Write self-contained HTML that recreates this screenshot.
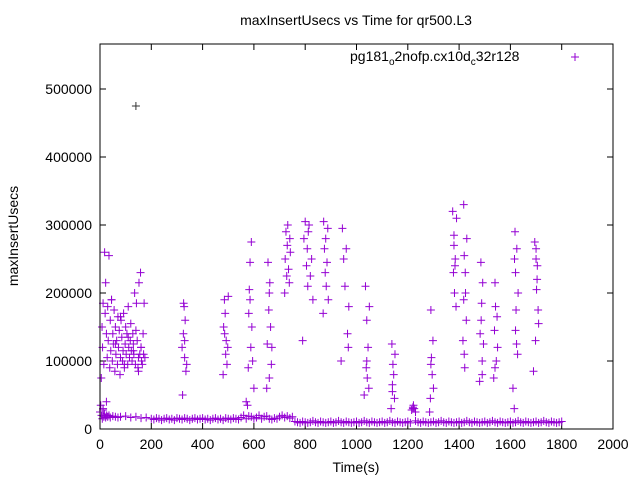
<!DOCTYPE html>
<html><head><meta charset="utf-8"><style>
body{margin:0;background:#fff}
svg{display:block;font-family:"Liberation Sans",sans-serif}
</style></head><body>
<svg id="chart" width="640" height="480">
<rect x="0" y="0" width="640" height="480" fill="#fff"/>
<text x="356" y="25" font-size="14" text-anchor="middle">maxInsertUsecs vs Time for qr500.L3</text>
<text x="18" y="236" font-size="14" text-anchor="middle" transform="rotate(-90 18 236)">maxInsertUsecs</text>
<text x="356" y="472" font-size="14" text-anchor="middle">Time(s)</text>
<g id="axes"></g>
<g id="points"></g>
<rect x="100" y="44" width="513" height="385" fill="none" stroke="#000" stroke-width="1"/>
<g>
<text x="350" y="61" font-size="14">pg181<tspan font-size="10" dy="4">o</tspan><tspan dy="-4">2nofp.cx10d</tspan><tspan font-size="10" dy="4">c</tspan><tspan dy="-4">32r128</tspan></text>
<path d="M571 57h8M575 53v8" stroke="#9400d3" stroke-width="1"/>
</g>
</svg>
<script>
const xTicks=[0,200,400,600,800,1000,1200,1400,1600,1800,2000];
const yTicks=[0,100000,200000,300000,400000,500000];
const clusterTime=[
5,8,10,12,15,18,20,22,25,28,30,32,35,38,40,42,45,48,50,52,55,58,60,62,65,68,70,72,75,78,80,82,85,88,90,92,95,98,100,102,105,108,110,112,115,118,120,122,125,128,130,132,135,138,140,142,145,148,150,152,155,158,160,162,165,168,170,172,175,12,25,35,45,60,80,95,110,130,150,160,
320,322,325,328,330,332,335,338,330,326,
480,482,485,488,490,492,495,498,500,486,
570,575,578,580,582,585,588,590,592,595,600,585,
650,652,655,658,660,662,665,668,670,660,
720,722,725,728,730,732,735,738,740,742,
790,795,800,805,808,810,815,820,825,830,812,
870,872,875,878,880,882,885,888,890,
940,945,950,955,960,965,970,968,
1030,1035,1038,1040,1042,1045,1048,1050,1040,
1135,1138,1140,1142,1145,1148,1150,1140,
1215,1220,1225,1230,1222,
1285,1288,1290,1292,1295,1298,1300,1290,
1375,1378,1380,1382,1385,1388,1390,1380,1384,
1415,1418,1420,1422,1425,1428,1430,1420,1424,1418,
1480,1482,1485,1488,1490,1492,1495,1486,1490,
1535,1538,1540,1542,1545,1548,1550,1540,
1610,1615,1618,1620,1622,1625,1628,1630,1620,1616,1624,
1690,1695,1698,1700,1702,1705,1708,1710,1700,1704,
140];
const clusterUsecs=[
75000,150000,120000,185000,95000,260000,170000,215000,140000,105000,180000,130000,255000,90000,160000,115000,190000,100000,140000,125000,175000,85000,150000,110000,130000,95000,165000,120000,145000,80000,105000,160000,135000,100000,115000,170000,90000,125000,150000,110000,140000,95000,180000,120000,105000,130000,155000,115000,100000,140000,125000,110000,200000,95000,145000,185000,130000,90000,105000,215000,110000,230000,120000,100000,95000,140000,110000,185000,105000,30000,40000,20000,190000,125000,165000,95000,135000,115000,85000,120000,
120000,50000,140000,180000,105000,160000,85000,95000,130000,185000,
80000,150000,190000,170000,110000,130000,95000,120000,195000,140000,
40000,35000,90000,170000,205000,245000,120000,275000,150000,100000,60000,190000,
60000,125000,245000,175000,200000,215000,150000,95000,120000,75000,
200000,250000,290000,225000,270000,300000,235000,215000,280000,260000,
130000,280000,305000,240000,265000,210000,300000,225000,250000,190000,290000,
170000,305000,265000,230000,280000,210000,245000,295000,190000,
100000,295000,250000,210000,265000,140000,180000,120000,
50000,210000,90000,160000,75000,120000,60000,180000,100000,
30000,125000,55000,95000,80000,45000,110000,65000,
28000,32000,30000,25000,35000,
25000,45000,175000,105000,80000,130000,60000,95000,
320000,230000,285000,200000,250000,180000,310000,270000,240000,
130000,330000,255000,90000,200000,160000,280000,110000,230000,190000,
70000,140000,245000,185000,100000,215000,125000,160000,80000,
75000,145000,215000,180000,100000,165000,120000,90000,
60000,30000,290000,230000,175000,265000,110000,200000,145000,250000,125000,
85000,275000,130000,250000,205000,240000,175000,155000,265000,220000,
475000];
const baseTime=[0,3,6,9,12,15,18,22,26,30,40,50,60,70,80,100,120,140,160,180,
200,210,220,230,240,250,260,270,280,290,300,310,320,330,340,350,360,370,380,390,400,410,420,430,440,450,460,470,480,490,500,510,520,530,540,550,560,570,580,590,600,610,620,630,640,650,660,670,680,690,700,
710,720,730,740,750,760,
770,780,790,800,810,820,830,840,850,860,870,880,890,900,910,920,930,940,950,960,970,980,990,1000,1010,1020,1030,1040,1050,1060,1070,1080,1090,1100,1110,1120,1130,1140,1150,1160,1170,1180,1190,1200,1210,1220,1230,1240,1250,1260,1270,1280,1290,1300,1310,1320,1330,1340,1350,1360,1370,1380,1390,1400,1410,1420,1430,1440,1450,1460,1470,1480,1490,1500,1510,1520,1530,1540,1550,1560,1570,1580,1590,1600,1610,1620,1630,1640,1650,1660,1670,1680,1690,1700,1710,1720,1730,1740,1750,1760,1770,1780,1790,1800];
const baseUsecs=[25000,35000,20000,15000,28000,18000,22000,17000,20000,18000,17000,19000,18000,17000,18000,19000,17000,18000,16000,17000,
15000,14000,16000,15000,13000,15000,16000,14000,15000,13000,
16000,15000,14000,16000,15000,13000,15000,16000,14000,15000,
16000,14000,15000,13000,15000,16000,14000,15000,13000,16000,
15000,14000,16000,15000,14000,17000,20000,15000,19000,18000,
15000,17000,20000,15000,18000,19000,15000,14000,16000,15000,
18000,
20000,17000,19000,16000,18000,11000,
10000,9000,11000,10000,9000,10000,12000,10000,9000,11000,
10000,9000,10000,11000,9000,10000,12000,10000,9000,11000,
10000,9000,10000,11000,9000,10000,12000,10000,9000,11000,
10000,9000,10000,11000,9000,10000,12000,10000,9000,11000,
10000,9000,10000,11000,9000,30000,12000,10000,9000,11000,
10000,9000,10000,11000,9000,10000,12000,10000,9000,11000,
10000,9000,10000,11000,9000,10000,12000,10000,9000,11000,
10000,9000,10000,11000,9000,10000,12000,10000,9000,11000,
10000,9000,10000,11000,9000,10000,12000,10000,9000,11000,
10000,9000,10000,11000,9000,10000,12000,10000,9000,11000,
10000,9000,10000,11000];

const X0=100,X1=613,Y0=429,YT=44;
const sx=v=>X0+v/2000*(X1-X0);
const sy=v=>Y0-v*0.00068;
const NS="http://www.w3.org/2000/svg";
const axes=document.getElementById('axes');
function mk(tag,attrs,parent){const e=document.createElementNS(NS,tag);for(const k in attrs)e.setAttribute(k,attrs[k]);parent.appendChild(e);return e;}
xTicks.forEach(t=>{
  const x=sx(t);
  const tk=mk('path',{d:`M${x} ${Y0}v-6M${x} ${YT}v6`,stroke:'#000'},axes);
  
  
  const lb=mk('text',{x:x,y:Y0+20,'font-size':14,'text-anchor':'middle'},axes);
  lb.textContent=t;
  
  
});
yTicks.forEach(t=>{
  const y=sy(t);
  const tk=mk('path',{d:`M${X0} ${y}h6M${X1} ${y}h-6`,stroke:'#000'},axes);
  
  
  const lb=mk('text',{x:X0-8,y:y+5,'font-size':14,'text-anchor':'end'},axes);
  lb.textContent=t;
  
  
});
const pts=document.getElementById('points');
function plus(tv,uv,col){
  if(tv===undefined||uv===undefined)return;
  const x=sx(tv),y=sy(uv);
  const p=mk('path',{d:`M${x-4} ${y}h8M${x} ${y-4}v8`,stroke:col,'stroke-width':1},pts);
  
  
}
baseTime.forEach((t,i)=>plus(t,baseUsecs[i],'#9400d3'));
clusterTime.forEach((t,i)=>plus(t,clusterUsecs[i],i===clusterTime.length-1?'#333':'#9400d3'));
</script>
</body></html>
